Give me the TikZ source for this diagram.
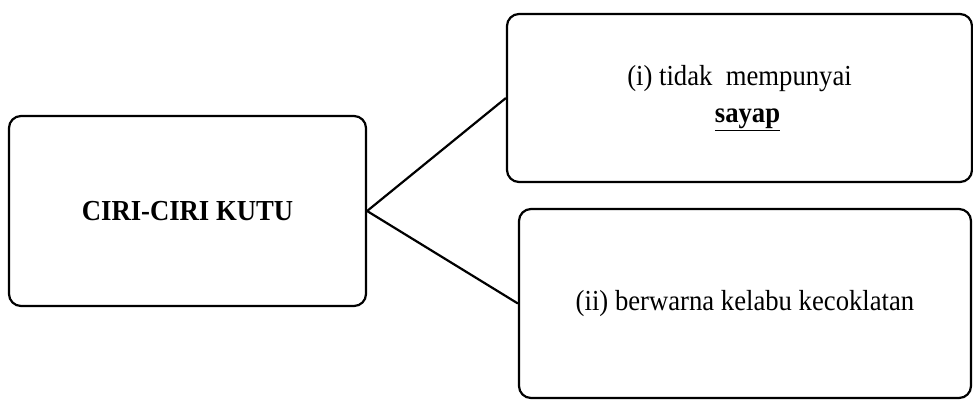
\documentclass[tikz,border=0pt]{standalone}
\usepackage{fontspec}
\usepackage{graphicx}
\setmainfont{Liberation Serif}
\newcommand{\tallt}[1]{\scalebox{1.03}[1.12]{#1}}
\begin{document}
\begin{tikzpicture}[x=1bp,y=-1bp,
  box/.style={draw=black, line width=2.2bp, rounded corners=12bp, inner sep=0pt, align=center},
  conn/.style={draw=black, line width=2.2bp}]
\useasboundingbox (0,0) rectangle (973,402);
\node[box, minimum width=357bp, minimum height=190bp, font=\fontsize{26}{30}\selectfont\bfseries] (main) at (187.5,211) {\raisebox{-2bp}{\tallt{CIRI-CIRI KUTU}}};
\node[box, minimum width=465bp, minimum height=168bp, font=\fontsize{26}{37}\selectfont] (top) at (739.5,98) {\raisebox{-3bp}{\tallt{(i) tidak\ \ mempunyai}}\\\hspace*{16bp}\raisebox{-3bp}{\tallt{\textbf{\underline{sayap}}}}};
\node[box, minimum width=452bp, minimum height=189bp, font=\fontsize{26}{30}\selectfont] (bot) at (745,303.5) {\raisebox{-4bp}{\tallt{(ii) berwarna kelabu kecoklatan}}};
\draw[conn] (main.east) -- (top.west);
\draw[conn] (main.east) -- (bot.west);
\end{tikzpicture}
\end{document}
